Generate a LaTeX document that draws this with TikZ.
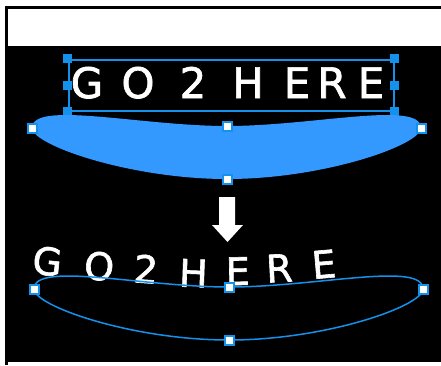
\documentclass[tikz,border=0pt]{standalone}
\usepackage{fontspec}
\setmainfont{DejaVu Sans}
\newfontfamily\gofont[FakeBold=1.6]{DejaVu Sans}
\definecolor{selblue}{RGB}{20,145,235}
\definecolor{shapeblue}{RGB}{51,153,255}

\begin{document}
\begin{tikzpicture}[x=1pt,y=-1pt,
        grip/.style={fill=selblue,inner sep=0pt,minimum size=9pt},
        anchorpt/.style={draw=selblue,fill=white,line width=2pt,inner sep=0pt,minimum size=9pt},
        bigletter/.style={white,font=\gofont\fontsize{42}{42}\selectfont,anchor=base,inner sep=0pt},
        smallletter/.style={white,font=\gofont\fontsize{38}{38}\selectfont,anchor=base,inner sep=0pt}]
        \useasboundingbox (0,0) rectangle (441,365);
        \fill[black] (5,46) rectangle (441,362);
        \draw[line width=3pt] (6.5,365) -- (6.5,7.5) -- (441,7.5);

        \foreach \l/\x [count=\n] in {G/87,O/138,2/193,H/248,E/297,R/332,E/371}{
            \node[bigletter] (top\n) at (\x,98) {\l};
        }
        \node[draw=selblue,line width=2pt,minimum width=325pt,minimum height=51pt,inner sep=0pt] (box) at (231,85) {};
        \foreach \a [count=\n] in {north west,west,south west,north east,east,south east}{
            \node[grip] (g\n) at (box.\a) {};
        }

        \fill[shapeblue] (32,128) .. controls (32,100) and (140,126) .. (227,126)
            .. controls (314,126) and (421,100) .. (421,128)
            .. controls (421,145) and (324,179) .. (227,179)
            .. controls (130,179) and (32,145) .. (32,128) -- cycle;
        \foreach \x/\y [count=\n] in {32/128,227/126,421/128,227/179}{
            \node[anchorpt] (p\n) at (\x,\y) {};
        }

        \fill[white] (219,197) -- (235,197) -- (235,225) -- (243,225) -- (227.5,242) -- (212,225) -- (219,225) -- cycle;

        \foreach \l/\x/\y/\r [count=\n] in {G/46/275/-6,O/98/280/-5,2/145/283/-4,H/193/287/-2,E/238/285/1,R/280/282/3,E/325/278/5}{
            \node[smallletter,rotate=\r] (bot\n) at (\x,\y) {\l};
        }
        \begin{scope}[shift={(2,161)}]
            \draw[selblue,line width=1.5pt] (32,128) .. controls (32,100) and (140,126) .. (227,126)
                .. controls (314,126) and (421,100) .. (421,128)
                .. controls (421,145) and (324,179) .. (227,179)
                .. controls (130,179) and (32,145) .. (32,128) -- cycle;
            \foreach \x/\y [count=\n] in {32/128,227/126,421/128,227/179}{
                \node[anchorpt] (q\n) at (\x,\y) {};
            }
        \end{scope}
    \end{tikzpicture}
\end{document}
